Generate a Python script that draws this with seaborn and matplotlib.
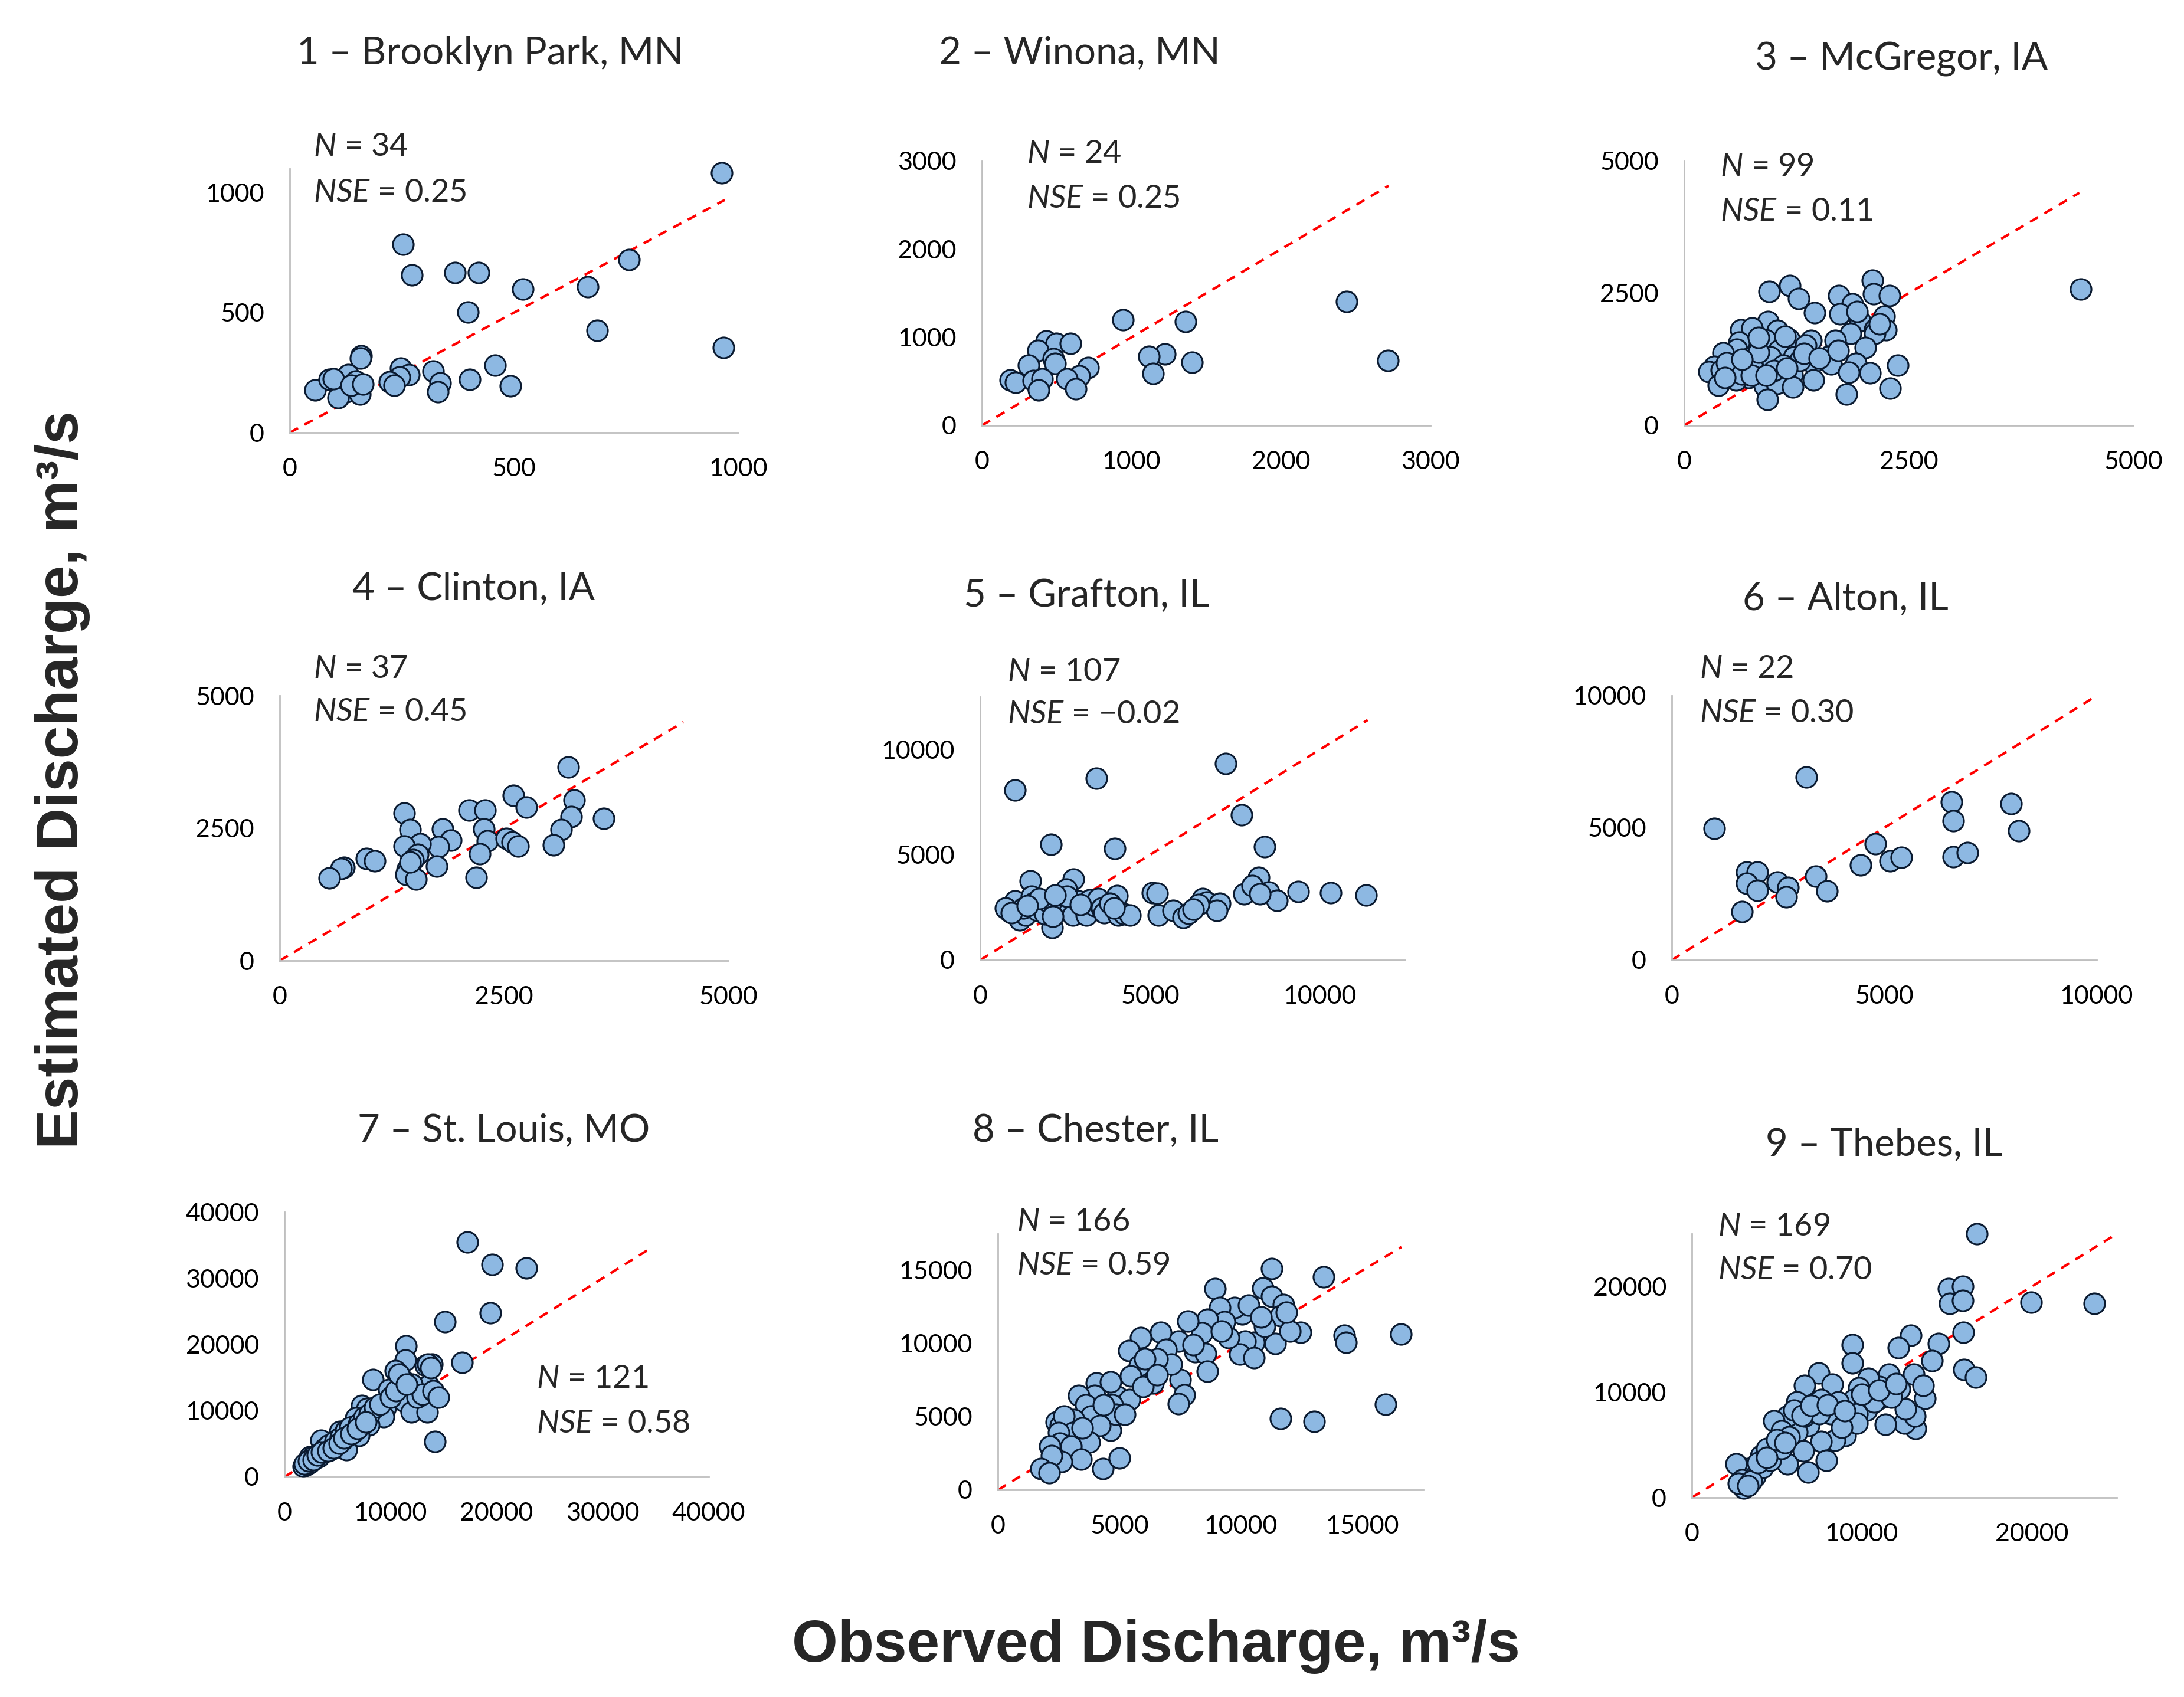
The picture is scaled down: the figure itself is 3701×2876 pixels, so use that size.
import numpy as np
import pandas as pd
import matplotlib
matplotlib.use("Agg")
import matplotlib.pyplot as plt
import seaborn as sns

# station names and stats
stations = ["1 \u2013 Brooklyn Park, MN", "2 \u2013 Winona, MN", "3 \u2013 McGregor, IA",
            "4 \u2013 Clinton, IA", "5 \u2013 Grafton, IL", "6 \u2013 Alton, IL",
            "7 \u2013 St. Louis, MO", "8 \u2013 Chester, IL", "9 \u2013 Thebes, IL"]
n_obs = [34, 24, 99, 37, 107, 22, 121, 166, 169]
nse = ["0.25", "0.25", "0.11", "0.45", "\u22120.02", "0.30", "0.58", "0.59", "0.70"]

# axis limits / ticks per panel
x_max = [1000, 3000, 5000, 5000, 12500, 10000, 40000, 17500, 25000]
y_max = [1100, 3000, 5000, 5000, 12500, 10000, 40000, 17500, 25000]
tick_step = [500, 1000, 2500, 2500, 5000, 5000, 10000, 5000, 10000]
line_end = [970, 2720, 4400, 4500, 11400, 10000, 34700, 16600, 25000]

# observed / estimated discharge (m3/s)
obs_1 = [963, 253, 273, 368, 421, 520, 756, 665, 398, 685, 967, 159, 158, 458, 320, 335, 330,
         401, 492, 247, 266, 245, 222, 233, 57, 88, 130, 147, 126, 108, 156, 97, 137, 163]
est_1 = [1082, 786, 657, 668, 668, 599, 722, 607, 503, 426, 355, 319, 309, 281, 255, 207, 171,
         222, 195, 268, 241, 232, 212, 197, 178, 222, 240, 214, 171, 144, 159, 225, 197, 202]

obs_2 = [2438, 2715, 944, 1361, 1223, 1118, 1146, 1406, 432, 498, 592, 376, 479, 490, 310,
         711, 653, 570, 191, 224, 343, 404, 379, 628]
est_2 = [1403, 736, 1200, 1181, 811, 786, 589, 714, 958, 931, 931, 853, 756, 700, 686,
         658, 564, 528, 514, 486, 508, 528, 403, 417]

obs_3 = [4412, 2099, 2112, 2288, 1175, 949, 1272, 1721, 1872, 1453, 1734, 2225, 1956, 936, 2124,
         2250, 1851, 2124, 634, 756, 1041, 1167, 1679, 2015, 1411, 1356, 873, 907, 613, 588,
         432, 1054, 1222, 1608, 726, 915, 1432, 1637, 1914, 2376, 567, 336, 273, 411, 495,
         663, 789, 1096, 1201, 1285, 1830, 2070, 714, 579, 382, 894, 1029, 1209, 1440, 2292,
         1805, 924, 957, 1104, 831, 474, 642, 747, 999, 1335, 1503, 1713, 915, 453, 1146,
         642, 831, 1125, 2175, 1923]
est_3 = [2579, 2746, 2486, 2454, 2648, 2533, 2394, 2454, 2301, 2130, 2107, 2070, 1977, 1968, 1820,
         1806, 1745, 1736, 1806, 1838, 1792, 1634, 1607, 1468, 1607, 1514, 1528, 1621, 1574, 1435,
         1375, 1412, 1296, 1310, 1273, 1227, 1181, 1158, 1167, 1134, 1144, 1111, 1019, 1051, 995,
         1088, 1065, 995, 958, 1227, 1005, 995, 903, 857, 764, 750, 796, 727, 857, 704,
         588, 486, 1296, 1134, 1389, 1181, 972, 949, 1042, 1366, 1273, 1412, 949, 903, 1088,
         1250, 1667, 1690, 1921, 2153]

obs_4 = [3216, 2608, 2753, 3282, 3251, 3612, 3141, 3053, 2114, 2291, 2278, 2313, 2524, 2590, 2656,
         2233, 2194, 1388, 1454, 1819, 1907, 1771, 1564, 1388, 1542, 1485, 1445, 1419, 1410, 1520,
         1753, 969, 1057, 718, 683, 551, 1454]
est_4 = [3650, 3118, 2891, 3027, 2718, 2686, 2477, 2182, 2841, 2841, 2482, 2263, 2309, 2241, 2159,
         2013, 1568, 2786, 2468, 2482, 2273, 2150, 2209, 2159, 2000, 1909, 1795, 1718, 1627, 1536,
         1786, 1923, 1886, 1764, 1732, 1559, 1855]

obs_5 = [7220, 3419, 1020, 7684, 2086, 3964, 8368, 1472, 2747, 8194, 2527, 4022, 5076, 5216, 7765,
         7997, 8484, 8727, 9353, 10315, 11358, 8229, 6548, 6664, 7047, 6954, 6432, 5250, 5679, 5969,
         6120, 6259, 2121, 869, 1020, 1159, 1333, 1275, 1507, 1541, 1681, 1796, 1912, 1970, 2202,
         2376, 2469, 2643, 2724, 2874, 3071, 3129, 3222, 3361, 3477, 3570, 3651, 3825, 4056, 4230,
         4404, 753, 927, 1738, 2144, 2550, 2955, 3941, 2202, 1391]
est_5 = [9332, 8635, 8081, 6897, 5480, 5291, 5369, 3742, 3852, 3930, 3376, 3044, 3188, 3155, 3133,
         3520, 3221, 2823, 3243, 3188, 3077, 3133, 2911, 2745, 2690, 2358, 2635, 2137, 2358, 2026,
         2214, 2413, 1528, 2303, 2801, 1915, 2137, 2469, 3022, 2690, 2358, 2579, 2192, 2801, 2469,
         2856, 2579, 2358, 2137, 2801, 2469, 2137, 2856, 2579, 2911, 2469, 2247, 2690, 2137, 2192,
         2137, 2469, 2247, 2911, 2081, 3022, 2635, 2469, 3077, 2579]

obs_6 = [3166, 996, 6583, 6629, 7980, 8166, 4786, 4441, 5140, 5400, 6629, 6955, 3389, 3650, 1760,
         2020, 1760, 2020, 2486, 2737, 2700, 1648]
est_6 = [6911, 4987, 5984, 5278, 5922, 4881, 4395, 3601, 3751, 3883, 3910, 4069, 3160, 2604, 3336,
         3336, 2895, 2630, 2939, 2736, 2383, 1836]

obs_7 = [17270, 19574, 22801, 19397, 15141, 16737, 11454, 11418, 13298, 13901, 10461, 11099, 8333,
         9858, 12411, 13581, 14113, 13050, 11276, 11950, 13475, 14184, 9503, 9326, 7269, 7801,
         7979, 6737, 6560, 7021, 5674, 5213, 5142, 4362, 3475, 5851, 2376, 2000, 2200, 2500,
         2800, 3000, 3300, 3600, 4000, 4500, 5000, 5500, 6000, 6500, 1800, 2100, 2400, 2600,
         3200, 3800, 4200, 4800, 5300, 5800, 6200, 7000, 7500, 8000, 8500, 9000, 10000, 10500,
         12000, 12500, 13000, 14000, 14500, 13500, 13800, 10800, 11500,
         1900, 2300, 2700, 3100, 3500, 4100, 4600, 5200, 5600, 6300, 6900, 7700]
est_7 = [35487, 32068, 31505, 24809, 23400, 17268, 19734, 17620, 16810, 16986, 15999, 14695, 14695,
         13180, 12757, 13814, 12475, 11876, 11418, 9761, 9761, 5357, 10466, 9127, 10819, 10361,
         7823, 8880, 7647, 6237, 6766, 6836, 5533, 4123, 5533, 4123, 3066, 1800, 2200, 2500,
         2700, 3200, 3500, 3800, 4100, 4500, 5000, 5600, 6200, 6800, 1600, 1900, 2100, 2900,
         3000, 4300, 4800, 5400, 6000, 7000, 7500, 8000, 9000, 9500, 10500, 11000, 12000, 13000,
         14000, 12000, 12500, 13000, 12000, 17000, 16500, 15500, 14000,
         2000, 2400, 2600, 3300, 3700, 3900, 4400, 5100, 5900, 6500, 7300, 8300]

obs_8 = [11268, 13404, 8941, 10900, 11268, 11754, 16571, 14259, 14318, 15952, 11637, 13006, 12447,
         11637, 10532, 10164, 9943, 10532, 11416, 9501, 10046, 9722, 10311, 9133, 9324, 8617,
         8396, 7807, 8102, 8544, 8617, 7439, 7512, 7660, 7439, 6702, 6923, 7144, 6555, 6378,
         5863, 5377, 5818, 5450, 6039, 4935, 5421, 4714, 4051, 4640, 3977, 3314, 3609, 3830,
         4640, 4861, 4198, 3137, 2401, 2578, 2725, 3093, 3756, 2504, 2548, 2136, 3020, 3432,
         2622, 2210, 1768, 2106, 4316, 5008, 3461, 4346, 5229, 5966, 6555, 8028, 9206, 10973,
         12004, 10826, 11857]
est_8 = [15127, 14574, 13737, 13785, 13232, 12679, 10627, 10548, 10074, 5842, 4863, 4674, 10785,
         11890, 10074, 10153, 9285, 9048, 9995, 10390, 12001, 12443, 12632, 12443, 11495, 11653,
         10737, 11527, 9443, 9316, 8100, 10153, 7548, 6474, 5890, 10785, 9601, 8574, 8969, 7311,
         10390, 9522, 8495, 7785, 8969, 6363, 6158, 5811, 7311, 7390, 6442, 6442, 5811, 5021,
         4074, 5179, 4390, 4784, 4627, 4390, 5021, 3916, 3284, 3916, 3205, 2969, 2969, 2100,
         1942, 2337, 1468, 1153, 1468, 2179, 4232, 5811, 5179, 7074, 7863, 9916, 10864, 11180,
         10864, 11811, 12127]

obs_9 = [16783, 23665, 19980, 15118, 15940, 15163, 15940, 15984, 12876, 12166, 14497, 14119, 9457,
         9457, 16006, 16717, 13054, 13720, 13609, 13165, 12499, 11389, 13121, 12566, 12210, 11611,
         11056, 11056, 10390, 9835, 9502, 10279, 9280, 9013, 8392, 7615, 7903, 6838, 7459, 8281,
         6616, 7615, 8170, 6882, 6172, 6616, 6172, 5617, 4840, 5284, 4840, 5617, 6571, 4063,
         4396, 3286, 2620, 2953, 3064, 2731, 3730, 4174, 4618, 5284, 5728, 8614, 9724, 10723,
         11722, 9724, 7504, 8836, 3508, 3286,
         3900, 4400, 5000, 5500, 6000, 6500, 7000, 8000, 9000, 10000, 11000, 12000]
est_9 = [25017, 18387, 18520, 19780, 20000, 18387, 18675, 15647, 15360, 14188, 14586, 12995, 14476,
         12774, 12111, 11382, 11713, 9393, 10608, 6520, 7072, 6962, 7735, 8398, 10277, 11713,
         10498, 9393, 11315, 10387, 9282, 8288, 7735, 5857, 5415, 5304, 3536, 2431, 11824, 10719,
         10608, 9282, 7956, 6851, 6188, 7735, 9061, 7735, 7293, 6299, 4973, 3205, 4420, 3978,
         4641, 2763, 3205, 1658, 884, 1326, 1989, 2873, 3536, 4641, 5746, 9061, 7956, 9061,
         9503, 7072, 7956, 6630, 1547, 1105,
         3300, 3800, 5500, 5200, 8300, 7800, 8700, 8800, 8200, 9800, 10200, 10800]

obs_all = [obs_1, obs_2, obs_3, obs_4, obs_5, obs_6, obs_7, obs_8, obs_9]
est_all = [est_1, est_2, est_3, est_4, est_5, est_6, est_7, est_8, est_9]

sns.set_style("white")
plt.rcParams["font.family"] = ["Lato", "DejaVu Sans"]
plt.rcParams["mathtext.fontset"] = "custom"
plt.rcParams["mathtext.rm"] = "Lato"
plt.rcParams["mathtext.it"] = "Lato:italic"

W, H = 3701, 2876
fig = plt.figure(figsize=(W / 100, H / 100), dpi=100)

# axes boxes in pixels: left, top, right, bottom
boxes = [(491, 286, 1251, 733), (1664, 273, 2424, 721), (2854, 273, 3615, 721),
         (474, 1179, 1234, 1628), (1661, 1181, 2381, 1627), (2833, 1179, 3553, 1627),
         (482, 2054, 1201, 2503), (1691, 2091, 2412, 2525), (2867, 2091, 3587, 2538)]
title_pos = [(831, 90), (1829, 90), (3222, 101), (802, 998), (1841, 1010), (3127, 1015),
             (854, 1916), (1857, 1916), (3193, 1940)]
stat_pos = [(531, 248, 326), (1740, 260, 337), (2915, 283, 359), (531, 1133, 1206),
            (1707, 1138, 1211), (2880, 1133, 1209), (909, 2337, 2413), (1723, 2070, 2144),
            (2911, 2078, 2153)]

for i in range(9):
    l, t, r, b = boxes[i]
    ax = fig.add_axes([l / W, 1 - b / H, (r - l) / W, (b - t) / H])
    df = pd.DataFrame({"obs": obs_all[i], "est": est_all[i]})
    ax.plot([0, line_end[i]], [0, line_end[i]], color="#FF0000", lw=3.0,
            linestyle=(0, (3.8, 3.0)), zorder=1)
    sns.scatterplot(data=df, x="obs", y="est", ax=ax, s=640, color="#8DB8E2",
                    edgecolor="#0A1A30", linewidth=2.2, zorder=3, legend=False,
                    clip_on=False)
    ax.set_xlim(0, x_max[i])
    ax.set_ylim(0, y_max[i])
    ticks = np.arange(0, x_max[i] + 1, tick_step[i])
    ax.set_xticks(ticks)
    ax.set_yticks(ticks)
    ax.set_xlabel("")
    ax.set_ylabel("")
    for s in ["top", "right"]:
        ax.spines[s].set_visible(False)
    for s in ["left", "bottom"]:
        ax.spines[s].set_color("#BFBFBF")
        ax.spines[s].set_linewidth(2)
    ax.tick_params(axis="both", direction="out", length=11, width=1.5, color="#BFBFBF",
                   labelsize=31, labelcolor="#000000")
    ax.tick_params(axis="x", pad=20)
    ax.tick_params(axis="y", pad=20)
    ax.set_facecolor("none")

    tx, ty = title_pos[i]
    fig.text(tx / W, 1 - ty / H, stations[i], ha="center", va="center", fontsize=47)
    sx, sy1, sy2 = stat_pos[i]
    fig.text(sx / W, 1 - sy1 / H, r"$\mathit{N}$" + f" = {n_obs[i]}",
             ha="left", va="center", fontsize=39)
    fig.text(sx / W, 1 - sy2 / H, r"$\mathit{NSE}$" + f" = {nse[i]}",
             ha="left", va="center", fontsize=39)

fig.text(106 / W, 1 - 1322 / H, "Estimated Discharge, m\u00b3/s", rotation=90,
         ha="center", va="center", fontsize=72, fontweight="bold",
         family=["Liberation Sans", "DejaVu Sans"])
fig.text(1959 / W, 1 - 2790 / H, "Observed Discharge, m\u00b3/s",
         ha="center", va="center", fontsize=72, fontweight="bold",
         family=["Liberation Sans", "DejaVu Sans"])

fig.savefig("out.png", dpi=100, facecolor="white")
